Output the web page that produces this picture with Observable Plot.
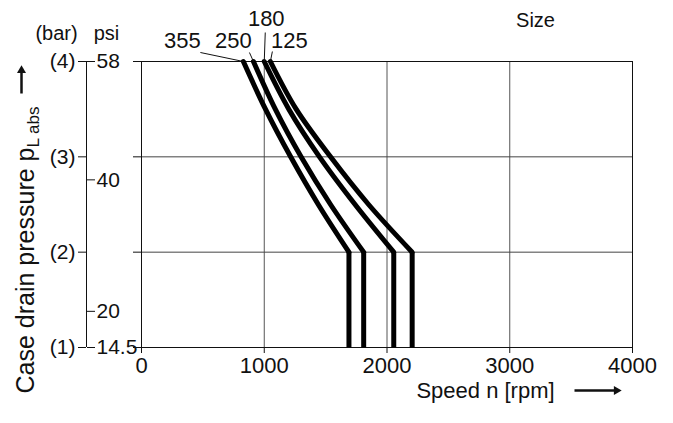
<!DOCTYPE html>
<html><head><meta charset="utf-8">
<script src="https://cdn.jsdelivr.net/npm/d3@7"></script>
<script src="https://cdn.jsdelivr.net/npm/@observablehq/plot@0.6"></script>
<style>
body{margin:0;background:#fff}
svg{font-family:"Liberation Sans",Arial,Helvetica,sans-serif}
</style>
</head><body><div id="chart"></div>
<script>
// ---- data ----
const sizes = ["355", "250", "180", "125"];
const pressureBar = [4, 3.5, 3, 2.5, 2, 1];
const speed355 = [830, 1010, 1215, 1440, 1690, 1690];
const speed250 = [912, 1090, 1300, 1540, 1810, 1810];
const speed180 = [1000, 1200, 1450, 1740, 2055, 2055];
const speed125 = [1050, 1260, 1540, 1850, 2205, 2205];
const speedTicks = [0, 1000, 2000, 3000, 4000];
const barTicks = [1, 2, 3, 4];
const barLabels = ["(1)", "(2)", "(3)", "(4)"];
const psiTicks = [14.5, 20, 40, 58];
const psiLabels = ["14.5", "20", "40", "58"];
const psiPerBar = 14.5;
const yTitle = "Case drain pressure p";
const ySub = "L abs";
const xTitle = "Speed n [rpm]";

// ---- layout ----
const W = 673, H = 423;
const M = {top: 61, right: 41, bottom: 76, left: 141};
const xs = d3.scaleLinear([0, 4000], [M.left, W - M.right]);
const ys = d3.scaleLinear([1, 4], [H - M.bottom, M.top]);
const FS = 21;
const axisOffset = 55; // secondary axis line, px left of frame

const speeds = [speed355, speed250, speed180, speed125];
const rows = sizes.flatMap((s, i) => pressureBar.map((p, j) => ({size: s, bar: p, speed: speeds[i][j]})));
const upper = rows.filter(d => d.bar >= 2);
const lower = rows.filter(d => d.bar <= 2);
const tops = sizes.map((s, i) => ({size: s, speed: speeds[i][0], bar: pressureBar[0]}));

// label offsets (px) relative to the top end of each curve
const lab = [
  {dx: -61, dy: -21, lx: -43, ly: -9},
  {dx: -20, dy: -21, lx: -4, ly: -9},
  {dx: 2, dy: -43, lx: 1, ly: -29},
  {dx: 19, dy: -21, lx: 2, ly: -10}
];
const leaders = tops.map((t, i) => ({
  x1: t.speed, y1: t.bar,
  x2: xs.invert(xs(t.speed) + lab[i].lx), y2: ys.invert(ys(t.bar) + lab[i].ly)
}));

const ink = "#111";
const T = {textAnchor: "middle", lineAnchor: "middle", fill: ink};
const plot = Plot.plot({
  width: W, height: H,
  marginTop: M.top, marginRight: M.right, marginBottom: M.bottom, marginLeft: M.left,
  x: {domain: [0, 4000], axis: null},
  y: {domain: [1, 4], axis: null},
  style: {fontSize: FS + "px", color: ink, background: "white"},
  marks: [
    Plot.gridX(speedTicks.slice(1, -1), {stroke: "#555", strokeOpacity: 1}),
    Plot.gridY(barTicks.slice(1, -1), {stroke: "#444", strokeOpacity: 1}),
    Plot.frame({stroke: ink}),
    Plot.axisX(speedTicks, {tickSize: 6, tickPadding: 4, fontSize: FS + 1, label: null, stroke: ink, fill: ink, tickFormat: d => String(d)}),
    Plot.axisY(barTicks, {tickSize: 8, tickFormat: () => "", label: null, stroke: ink}),
    // secondary bar / psi axis
    Plot.ruleX([0], {y1: 1, y2: 4, dx: -axisOffset, stroke: ink}),
    Plot.axisY(barTicks, {anchor: "left", dx: -axisOffset, tickSize: 8, tickPadding: 3, fontSize: FS, label: null,
      stroke: ink, fill: ink, tickFormat: d => barLabels[barTicks.indexOf(d)]}),
    Plot.axisY(psiTicks.map(p => p / psiPerBar), {anchor: "right", dx: -(W - M.left - M.right + axisOffset),
      tickSize: 8, tickPadding: 2, fontSize: FS, label: null, stroke: ink, fill: ink,
      tickFormat: (d, i) => psiLabels[i]}),
    Plot.text(["(bar)"], {...T, frameAnchor: "top-left", dx: -85, dy: -28, fontSize: FS - 1}),
    Plot.text(["psi"], {...T, frameAnchor: "top-left", dx: -35, dy: -28, fontSize: FS - 1}),
    // curves
    Plot.line(upper, {x: "speed", y: "bar", z: "size", curve: "catmull-rom", stroke: "black", strokeWidth: 5, strokeLinecap: "round"}),
    Plot.line(lower, {x: "speed", y: "bar", z: "size", stroke: "black", strokeWidth: 5, strokeLinecap: "butt"}),
    // size labels + leaders
    Plot.link(leaders, {x1: "x1", y1: "y1", x2: "x2", y2: "y2", stroke: ink, strokeWidth: 1}),
    ...tops.map((t, i) => Plot.text([t], {...T, x: "speed", y: "bar", text: "size", dx: lab[i].dx, dy: lab[i].dy, fontSize: FS + 1})),
    Plot.text(["Size"], {...T, frameAnchor: "top-right", dx: -97, dy: -41, fontSize: FS - 1}),
    // axis titles
    Plot.text([yTitle], {...T, frameAnchor: "bottom-left", dx: -116, dy: 46, rotate: -90, textAnchor: "start", fontSize: FS + 4}),
    Plot.text([xTitle], {...T, frameAnchor: "bottom-right", dx: -147, dy: 43, fontSize: FS + 1}),
    // arrows
    Plot.link([{}], {x1: () => xs.invert(21), x2: () => xs.invert(21), y1: () => ys.invert(93), y2: () => ys.invert(72), stroke: ink, strokeWidth: 2.5}),
    Plot.dot([{}], {x: () => xs.invert(21), y: () => ys.invert(70), symbol: "triangle2", r: 4.3, fill: ink, stroke: "none"}),
    Plot.link([{}], {x1: () => xs.invert(574), x2: () => xs.invert(614), y1: () => ys.invert(390), y2: () => ys.invert(390), stroke: ink, strokeWidth: 2.5}),
    Plot.dot([{}], {x: () => xs.invert(616), y: () => ys.invert(390), symbol: "triangle2", rotate: 90, r: 4.3, fill: ink, stroke: "none"})
  ]
});

// subscript on the y title
d3.select(plot).selectAll("text").filter(function() { return this.textContent === yTitle; })
  .append("tspan").attr("dy", "0.3em").attr("font-size", "17px").text(ySub);

document.getElementById("chart").appendChild(plot);
</script>
</body></html>
